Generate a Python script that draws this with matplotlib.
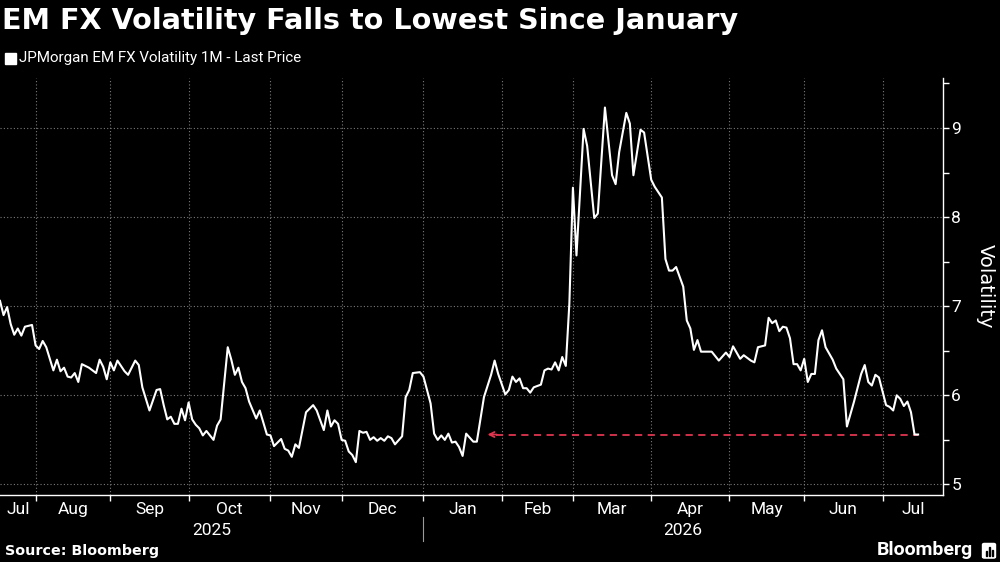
"""EM FX volatility chart, Bloomberg style (dark)."""
import numpy as np
import matplotlib
matplotlib.use('Agg')
import matplotlib.pyplot as plt
import matplotlib.transforms as mtransforms
from matplotlib.patches import Rectangle, FancyBboxPatch

# business-day offsets from START, and the index value on that day
START = '2025-07-18'
day = [0, 1, 2, 3, 4, 5, 6, 7, 9, 10, 11, 12, 13, 15, 16, 17, 18, 19, 20, 21,
       22, 23, 25, 27, 28, 29, 30, 31, 32, 33, 35, 36, 38, 39, 40, 42, 44, 45, 46, 47,
       48, 49, 50, 51, 52, 53, 54, 55, 56, 57, 58, 60, 61, 62, 64, 65, 66, 67, 68, 69,
       70, 72, 73, 75, 76, 77, 79, 80, 81, 82, 83, 84, 86, 88, 89, 91, 92, 93, 94, 95,
       96, 97, 98, 99, 100, 101, 102, 103, 104, 105, 106, 107, 108, 109, 110, 111, 113, 114, 115, 116,
       118, 119, 121, 122, 123, 124, 125, 126, 127, 128, 129, 130, 131, 133, 134, 136, 138, 139, 140, 142,
       143, 144, 145, 146, 147, 148, 149, 150, 152, 153, 154, 155, 156, 157, 158, 159, 160, 161, 162, 164,
       165, 167, 168, 170, 172, 173, 174, 176, 177, 178, 180, 181, 183, 184, 186, 187, 188, 189, 190, 192,
       193, 194, 195, 196, 197, 200, 201, 202, 204, 205, 206, 208, 209, 211, 212, 213, 215, 216, 217, 218,
       219, 220, 221, 222, 223, 224, 225, 226, 227, 228, 229, 230, 231, 232, 234, 235, 237, 238, 240, 242,
       243, 244, 245, 246, 247, 249, 250, 251, 252, 253, 254, 255, 256, 257, 258]
vol = [7.06, 6.90, 6.99, 6.80, 6.68, 6.75, 6.67, 6.77, 6.79, 6.56, 6.52, 6.61, 6.54, 6.28, 6.40, 6.27, 6.31, 6.21, 6.20, 6.25,
       6.15, 6.35, 6.31, 6.25, 6.40, 6.32, 6.18, 6.37, 6.28, 6.39, 6.27, 6.23, 6.39, 6.34, 6.09, 5.83, 6.06, 6.07, 5.89, 5.73,
       5.76, 5.68, 5.68, 5.85, 5.72, 5.92, 5.73, 5.67, 5.63, 5.55, 5.60, 5.50, 5.66, 5.73, 6.54, 6.40, 6.23, 6.31, 6.15, 6.08,
       5.93, 5.74, 5.83, 5.56, 5.55, 5.43, 5.51, 5.40, 5.38, 5.31, 5.45, 5.41, 5.81, 5.89, 5.83, 5.61, 5.83, 5.65, 5.72, 5.68,
       5.50, 5.49, 5.37, 5.33, 5.25, 5.60, 5.58, 5.59, 5.50, 5.53, 5.49, 5.52, 5.49, 5.54, 5.52, 5.45, 5.54, 5.98, 6.06, 6.25,
       6.26, 6.21, 5.91, 5.57, 5.50, 5.55, 5.50, 5.57, 5.47, 5.48, 5.42, 5.32, 5.57, 5.48, 5.48, 5.98, 6.23, 6.39, 6.24, 6.01,
       6.06, 6.21, 6.15, 6.19, 6.08, 6.08, 6.03, 6.09, 6.12, 6.28, 6.30, 6.29, 6.37, 6.28, 6.43, 6.33, 7.03, 8.33, 7.57, 8.99,
       8.80, 7.99, 8.04, 9.23, 8.47, 8.37, 8.73, 9.17, 9.05, 8.47, 8.98, 8.95, 8.42, 8.34, 8.22, 7.53, 7.40, 7.40, 7.44, 7.22,
       6.84, 6.75, 6.51, 6.62, 6.49, 6.49, 6.44, 6.39, 6.48, 6.43, 6.55, 6.41, 6.45, 6.39, 6.37, 6.54, 6.56, 6.87, 6.81, 6.84,
       6.72, 6.77, 6.76, 6.64, 6.35, 6.35, 6.28, 6.41, 6.15, 6.24, 6.24, 6.62, 6.73, 6.54, 6.40, 6.30, 6.18, 5.65, 5.93, 6.24,
       6.34, 6.15, 6.11, 6.23, 6.20, 5.89, 5.87, 5.83, 6.00, 5.96, 5.88, 5.93, 5.81, 5.56, 5.56]

# day where the "lowest since" reference starts
ref_day = 137

month_starts = ['2025-08-01', '2025-09-01', '2025-10-01', '2025-11-01', '2025-12-01',
                '2026-01-01', '2026-02-01', '2026-03-01', '2026-04-01', '2026-05-01',
                '2026-06-01', '2026-07-01', '2026-08-01']
month_labels = ['Jul', 'Aug', 'Sep', 'Oct', 'Nov', 'Dec', 'Jan', 'Feb', 'Mar', 'Apr',
                'May', 'Jun', 'Jul']
years = ['2025', '2026']
year_start = '2026-01-01'

X_END = 265
RED = '#e0354f'
GRID = '#7a7a7a'

bounds = np.busday_count(START, month_starts)
edges = np.clip(np.concatenate([[0], bounds]), 0, X_END)
centers = (edges[:-1] + edges[1:]) / 2
ybound = np.busday_count(START, year_start)

fig = plt.figure(figsize=(10, 5.62), dpi=100, facecolor='black')
ax = fig.add_axes([0.0, 0.119, 0.943, 0.742], facecolor='black')

ax.plot(day, vol, color='white', lw=1.5, zorder=3)

# dashed reference line back to January
ax.plot([ref_day + 2.5, day[-1]], [vol[-1], vol[-1]], color=RED, lw=1.3,
        linestyle=(0, (4, 3)), zorder=2)
ax.annotate('', xy=(ref_day, vol[-1]), xytext=(ref_day + 2.6, vol[-1]),
            arrowprops=dict(arrowstyle='->', color=RED, lw=1.3,
                            mutation_scale=9, shrinkA=0, shrinkB=0))

ax.set_xlim(0, X_END)
ax.set_ylim(4.88, 9.56)

for s in ['left', 'top']:
    ax.spines[s].set_visible(False)
for s in ['right', 'bottom']:
    ax.spines[s].set_color('white')
    ax.spines[s].set_linewidth(1.0)

ax.yaxis.tick_right()
ax.set_yticks([5, 6, 7, 8, 9])
ax.set_yticks([5.5, 6.5, 7.5, 8.5, 9.5], minor=True)
ax.tick_params(axis='y', which='both', colors='white', labelsize=12.5,
               length=4, width=1, pad=2)
ax.yaxis.set_label_position('right')
ax.set_ylabel('Volatility', rotation=270, color='white', fontsize=14,
              labelpad=24)

ax.set_xticks(bounds[bounds <= X_END])
ax.set_xticklabels([])
ax.set_xticks(centers, minor=True)
ax.set_xticklabels(month_labels, minor=True)
ax.tick_params(axis='x', which='major', colors='white', length=4, width=1)
ax.tick_params(axis='x', which='minor', length=0, colors='white',
               labelsize=12.5, pad=5)

ax.grid(True, which='major', color=GRID, linestyle=(0, (1, 2)), lw=0.8)

for lbl in ax.get_xticklabels(minor=True) + ax.get_yticklabels():
    lbl.set_family('Roboto')

# year row and divider
trans = mtransforms.blended_transform_factory(ax.transData, ax.transAxes)
year_edges = [0, ybound, X_END]
for i, yr in enumerate(years):
    ax.text((year_edges[i] + year_edges[i + 1]) / 2, -0.085, yr, transform=trans,
            ha='center', va='center', color='white', fontsize=12.5, family='Roboto')
ax.plot([ybound, ybound], [-0.053, -0.11], transform=trans, color='#9a9a9a',
        lw=0.8, clip_on=False)

# header
fig.text(0.002, 0.963, 'EM FX Volatility Falls to Lowest Since January',
         color='white', fontsize=20.6, fontweight='bold', va='center',
         family='DejaVu Sans')
fig.patches.append(Rectangle((0.005, 1 - 64 / 562), 0.011, 11 / 562,
                             transform=fig.transFigure, color='white'))
fig.text(0.019, 0.896, 'JPMorgan EM FX Volatility 1M - Last Price', color='white',
         fontsize=10.9, va='center', family='Roboto')

# footer
fig.text(0.005, 0.02, 'Source: Bloomberg', color='white', fontsize=10.3,
         fontweight='bold', va='center', family='DejaVu Sans')
fig.text(0.973, 0.021, 'Bloomberg', color='white', fontsize=14,
         fontweight='bold', va='center', ha='right', family='Roboto')
fig.patches.append(FancyBboxPatch((0.9825, 0.007), 0.013, 0.026,
                                  boxstyle='round,pad=0,rounding_size=0.002',
                                  transform=fig.transFigure, color='white'))
for bx, bh in [(0.9855, 0.008), (0.9885, 0.016), (0.9915, 0.011)]:
    fig.patches.append(Rectangle((bx, 0.011), 0.0015, bh,
                                 transform=fig.transFigure, color='black'))

plt.savefig('out.png', dpi=100, facecolor='black')
